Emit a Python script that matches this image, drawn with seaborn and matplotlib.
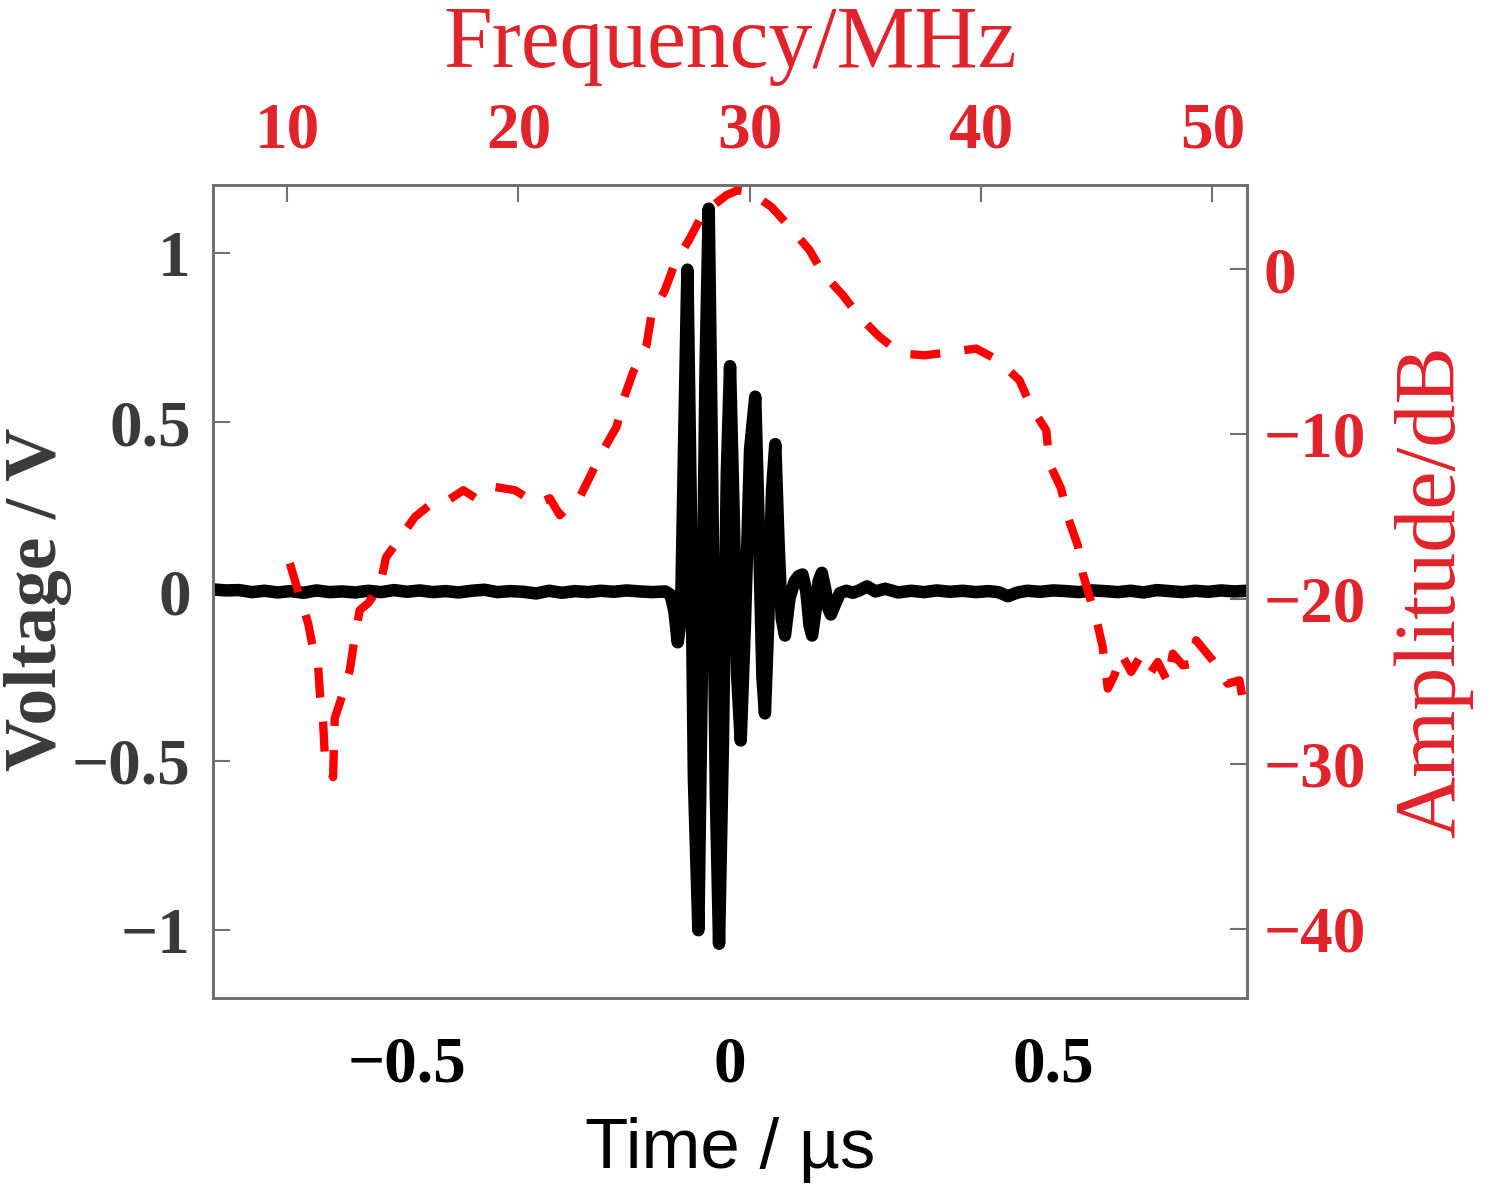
import pandas as pd
import matplotlib
matplotlib.use("Agg")
import matplotlib.pyplot as plt
import seaborn as sns

# --- time-domain echo: time (us) vs voltage (V) ---
t_pre = [-0.80, -0.78, -0.76, -0.74, -0.72, -0.70, -0.68, -0.66, -0.64, -0.62,
         -0.60, -0.58, -0.56, -0.54, -0.52, -0.50, -0.48, -0.46, -0.44, -0.42,
         -0.40, -0.38, -0.36, -0.34, -0.32, -0.30, -0.28, -0.26, -0.24, -0.22,
         -0.20, -0.18, -0.16, -0.14, -0.12]
v_pre = [0.006, 0.003, 0.004, -0.002, 0.002, -0.003, 0.001, -0.004, 0.003, -0.002,
         0.000, -0.003, 0.002, -0.002, 0.004, -0.001, 0.003, -0.002, 0.001, -0.003,
         0.002, 0.005, -0.002, 0.001, -0.001, -0.006, 0.002, -0.004, 0.001, -0.002,
         0.002, -0.001, 0.003, 0.000, -0.002]

t_pulse = [-0.10, -0.092, -0.086, -0.081, -0.076, -0.071, -0.066, -0.061, -0.056, -0.049,
           -0.044, -0.038, -0.033, -0.028, -0.022, -0.017, -0.011, -0.005, 0.0, 0.006,
           0.011, 0.0165, 0.023, 0.031, 0.039, 0.045, 0.050, 0.054, 0.059, 0.065,
           0.070, 0.075, 0.080, 0.085, 0.092, 0.100, 0.106, 0.112, 0.118, 0.123,
           0.127, 0.132, 0.137, 0.142, 0.147, 0.152, 0.156, 0.162, 0.170]
v_pulse = [0.0, -0.01, -0.06, -0.15, -0.08, 0.45, 0.95, 0.3, -0.55, -1.0,
           -0.3, 0.65, 1.13, 0.4, -0.6, -1.04, -0.45, 0.35, 0.665, 0.2,
           -0.25, -0.44, -0.1, 0.42, 0.575, 0.15, -0.25, -0.36, -0.1, 0.3,
           0.435, 0.15, -0.08, -0.13, -0.02, 0.03, 0.045, 0.05, 0.0, -0.10,
           -0.13, -0.06, 0.03, 0.055, 0.01, -0.05, -0.068, -0.04, -0.005]

t_post = [0.18, 0.19, 0.20, 0.212, 0.225, 0.24, 0.26, 0.28, 0.30, 0.32,
          0.34, 0.36, 0.38, 0.40, 0.415, 0.43, 0.445, 0.46, 0.48, 0.50,
          0.52, 0.54, 0.56, 0.58, 0.60, 0.62, 0.64, 0.66, 0.68, 0.70,
          0.72, 0.74, 0.76, 0.78, 0.80]
v_post = [0.002, -0.004, 0.003, 0.015, 0.0, 0.008, -0.003, 0.002, -0.002, 0.003,
          -0.001, 0.002, -0.002, 0.001, -0.002, -0.014, -0.003, 0.002, -0.001, 0.003,
          0.001, -0.002, 0.003, 0.001, -0.002, 0.002, -0.003, 0.004, 0.001, -0.002,
          0.002, -0.001, 0.003, 0.000, 0.002]

# --- spectrum: frequency (MHz) vs amplitude (dB) ---
freq_mhz = [10.12, 10.40, 10.60, 10.91, 11.12, 11.34, 11.43, 11.56, 11.63, 11.99,
            12.06, 12.49, 12.71, 12.92, 13.14, 13.50, 14.00, 14.28, 14.87, 15.53,
            16.25, 16.75, 17.62, 18.19, 18.98, 19.85, 20.79, 21.36, 21.79, 22.14,
            22.66, 23.23, 23.66, 24.24, 24.53, 24.96, 25.54, 25.75, 26.33, 26.76,
            27.41, 27.98, 28.99, 29.48, 30.00, 30.94, 31.73, 32.59, 33.17, 34.03,
            34.75, 35.62, 36.55, 37.56, 38.71, 39.79, 40.73, 41.66, 42.17, 42.82,
            42.96, 43.46, 43.75, 44.18, 44.40, 44.76, 44.98, 45.26, 45.48, 45.77,
            46.06, 46.49, 46.92, 47.35, 47.64, 48.07, 48.29, 48.72, 49.15, 49.30,
            50.01, 50.45, 50.66, 51.17, 51.31, 51.46]
amp_db = [-17.84, -19.18, -20.08, -21.48, -22.99, -24.02, -25.96, -27.54, -29.48, -30.81,
          -27.24, -25.42, -24.33, -22.39, -20.69, -20.27, -19.30, -17.48, -16.33, -15.03,
          -14.22, -14.22, -13.41, -13.92, -13.21, -13.41, -14.22, -13.90, -14.93, -14.43,
          -13.82, -12.20, -10.99, -9.58, -7.96, -6.24, -4.62, -2.80, -1.29, 0.33,
          1.85, 3.37, 4.48, 4.78, 4.68, 3.77, 2.55, 1.14, -0.27, -1.59,
          -2.90, -4.12, -5.12, -5.23, -5.03, -4.82, -5.53, -6.74, -8.36, -9.78,
          -11.80, -13.31, -15.03, -16.75, -18.47, -20.19, -21.19, -22.92, -25.44, -24.63,
          -23.32, -24.43, -23.42, -24.43, -23.83, -25.04, -23.32, -24.03, -23.92, -22.51,
          -23.72, -24.63, -25.14, -24.94, -26.05, -27.16]

time_ticks = [-0.5, 0, 0.5]
time_labels = ['\u22120.5', '0', '0.5']
volt_ticks = [-1, -0.5, 0, 0.5, 1]
volt_labels = ['\u22121', '\u22120.5', '0', '0.5', '1']
freq_ticks = [10, 20, 30, 40, 50]
freq_labels = ['10', '20', '30', '40', '50']
db_ticks = [-40, -30, -20, -10, 0]
db_labels = ['\u221240', '\u221230', '\u221220', '\u221210', '0']

sns.set_style("white")
plt.rcParams['font.family'] = ['Liberation Serif', 'DejaVu Serif']

RED_TXT = '#e1232b'
GREY_TXT = '#3a3a3a'
FRAME = '#707070'
TICK_FS = 47

echo = pd.DataFrame({'t': t_pre + t_pulse + t_post, 'v': v_pre + v_pulse + v_post})
spec = pd.DataFrame({'f': freq_mhz, 'a': amp_db})

fig = plt.figure(figsize=(14.94, 11.88), dpi=100)
ax = fig.add_axes([0.1426, 0.16, 0.6921, 0.6843])

sns.lineplot(data=echo, x='t', y='v', ax=ax, color='black', lw=9, sort=False,
             estimator=None, solid_joinstyle='round', solid_capstyle='round')
ax.set_xlim(-0.8, 0.8)
ax.set_ylim(-1.2, 1.2)
ax.set_xticks(time_ticks)
ax.set_xticklabels(time_labels, fontsize=TICK_FS, fontweight='bold', color='black')
ax.set_yticks(volt_ticks)
ax.set_yticklabels(volt_labels, fontsize=TICK_FS, fontweight='bold', color=GREY_TXT)
ax.tick_params(axis='x', direction='in', length=12, width=1.5, color=FRAME, pad=27)
ax.tick_params(axis='y', direction='in', length=12, width=1.5, color=FRAME, pad=16)
ax.set_xlabel('Time / \u00b5s', fontsize=51, color='black',
              family=['Liberation Sans', 'DejaVu Sans'], va='center')
ax.xaxis.set_label_coords(0.5, -0.187)
ax.set_ylabel('Voltage / V', fontsize=53, fontweight='bold', color=GREY_TXT, va='center')
ax.yaxis.set_label_coords(-0.169, 0.49)

# right (dB) axis and top (MHz) axis for the spectrum
axr = ax.twinx()
axf = axr.twiny()
sns.lineplot(data=spec, x='f', y='a', ax=axf, color='red', lw=6, sort=False,
             estimator=None, linestyle=(0, (3.6, 2.9)))
axf.set_xlim(6.8, 51.5)
axr.set_ylim(-44.2, 5.1)
axf.set_xticks(freq_ticks)
axf.set_xticklabels(freq_labels, fontsize=TICK_FS, fontweight='bold', color=RED_TXT)
axr.set_yticks(db_ticks)
axr.set_yticklabels(db_labels, fontsize=TICK_FS, fontweight='bold', color=RED_TXT)
axf.tick_params(axis='x', direction='in', length=12, width=1.5, color=FRAME, pad=17)
axr.tick_params(axis='y', direction='in', length=12, width=1.5, color=FRAME, pad=12)
axf.set_xlabel('Frequency/MHz', fontsize=63, color=RED_TXT, va='center')
axf.xaxis.set_label_coords(0.5, 1.172)
axf.set_ylabel('')
axr.set_ylabel('Amplitude/dB', fontsize=62, color=RED_TXT, va='center')
axr.yaxis.set_label_coords(1.18, 0.5)

for a in (ax, axr, axf):
    for sp in a.spines.values():
        sp.set_color(FRAME)
        sp.set_linewidth(1.8)

fig.savefig('out.png', dpi=100, facecolor='white')
